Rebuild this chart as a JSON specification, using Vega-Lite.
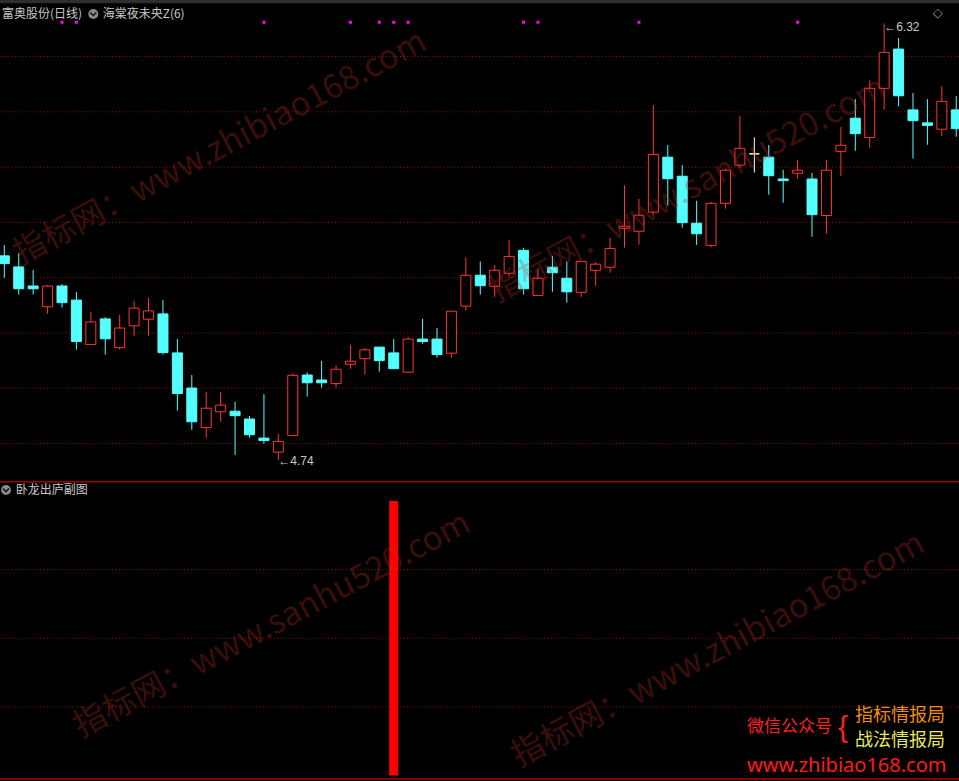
{
  "$schema": "https://vega.github.io/schema/vega-lite/v6.json",
  "background": "#000000",
  "padding": 0,
  "spacing": 0,
  "config": {"view": {"stroke": null}, "text": {"font": "Noto Sans CJK SC"}, "scale": {"continuousPadding": 0}},
  "resolve": {"scale": {"x": "independent", "y": "independent"}},
  "datasets": {
    "candles": [
      {"i":0,"o":5.479,"h":5.518,"l":5.400,"c":5.451,"t":"down"},
      {"i":1,"o":5.439,"h":5.489,"l":5.339,"c":5.360,"t":"down"},
      {"i":2,"o":5.370,"h":5.428,"l":5.339,"c":5.360,"t":"down"},
      {"i":3,"o":5.295,"h":5.374,"l":5.270,"c":5.370,"t":"up"},
      {"i":4,"o":5.370,"h":5.377,"l":5.292,"c":5.310,"t":"down"},
      {"i":5,"o":5.319,"h":5.348,"l":5.140,"c":5.169,"t":"down"},
      {"i":6,"o":5.158,"h":5.276,"l":5.158,"c":5.240,"t":"up"},
      {"i":7,"o":5.251,"h":5.257,"l":5.122,"c":5.179,"t":"down"},
      {"i":8,"o":5.147,"h":5.265,"l":5.140,"c":5.218,"t":"up"},
      {"i":9,"o":5.226,"h":5.316,"l":5.190,"c":5.290,"t":"up"},
      {"i":10,"o":5.250,"h":5.327,"l":5.190,"c":5.280,"t":"up"},
      {"i":11,"o":5.269,"h":5.319,"l":5.122,"c":5.129,"t":"down"},
      {"i":12,"o":5.128,"h":5.178,"l":4.919,"c":4.981,"t":"down"},
      {"i":13,"o":5.001,"h":5.048,"l":4.850,"c":4.879,"t":"down"},
      {"i":14,"o":4.858,"h":4.987,"l":4.821,"c":4.928,"t":"up"},
      {"i":15,"o":4.915,"h":4.987,"l":4.879,"c":4.939,"t":"up"},
      {"i":16,"o":4.917,"h":4.951,"l":4.759,"c":4.901,"t":"down"},
      {"i":17,"o":4.889,"h":4.900,"l":4.821,"c":4.832,"t":"down"},
      {"i":18,"o":4.820,"h":4.979,"l":4.800,"c":4.811,"t":"down"},
      {"i":19,"o":4.769,"h":4.835,"l":4.740,"c":4.808,"t":"up"},
      {"i":20,"o":4.829,"h":5.054,"l":4.829,"c":5.047,"t":"up"},
      {"i":21,"o":5.048,"h":5.058,"l":4.970,"c":5.020,"t":"down"},
      {"i":22,"o":5.030,"h":5.099,"l":5.002,"c":5.020,"t":"down"},
      {"i":23,"o":5.017,"h":5.083,"l":5.002,"c":5.069,"t":"up"},
      {"i":24,"o":5.087,"h":5.157,"l":5.071,"c":5.098,"t":"up"},
      {"i":25,"o":5.107,"h":5.146,"l":5.049,"c":5.139,"t":"up"},
      {"i":26,"o":5.149,"h":5.149,"l":5.060,"c":5.100,"t":"down"},
      {"i":27,"o":5.128,"h":5.178,"l":5.071,"c":5.071,"t":"down"},
      {"i":28,"o":5.058,"h":5.186,"l":5.058,"c":5.178,"t":"up"},
      {"i":29,"o":5.178,"h":5.251,"l":5.161,"c":5.169,"t":"down"},
      {"i":30,"o":5.178,"h":5.218,"l":5.111,"c":5.122,"t":"down"},
      {"i":31,"o":5.127,"h":5.279,"l":5.111,"c":5.279,"t":"up"},
      {"i":32,"o":5.297,"h":5.474,"l":5.281,"c":5.409,"t":"up"},
      {"i":33,"o":5.409,"h":5.459,"l":5.339,"c":5.371,"t":"down"},
      {"i":34,"o":5.369,"h":5.446,"l":5.331,"c":5.427,"t":"up"},
      {"i":35,"o":5.416,"h":5.536,"l":5.404,"c":5.477,"t":"up"},
      {"i":36,"o":5.499,"h":5.508,"l":5.339,"c":5.360,"t":"down"},
      {"i":37,"o":5.336,"h":5.435,"l":5.336,"c":5.398,"t":"up"},
      {"i":38,"o":5.438,"h":5.479,"l":5.349,"c":5.418,"t":"down"},
      {"i":39,"o":5.398,"h":5.459,"l":5.310,"c":5.349,"t":"down"},
      {"i":40,"o":5.347,"h":5.459,"l":5.331,"c":5.459,"t":"up"},
      {"i":41,"o":5.427,"h":5.457,"l":5.371,"c":5.449,"t":"up"},
      {"i":42,"o":5.438,"h":5.544,"l":5.418,"c":5.506,"t":"up"},
      {"i":43,"o":5.579,"h":5.734,"l":5.509,"c":5.586,"t":"up"},
      {"i":44,"o":5.568,"h":5.685,"l":5.519,"c":5.626,"t":"up"},
      {"i":45,"o":5.637,"h":6.025,"l":5.629,"c":5.846,"t":"up"},
      {"i":46,"o":5.836,"h":5.880,"l":5.661,"c":5.758,"t":"down"},
      {"i":47,"o":5.767,"h":5.807,"l":5.581,"c":5.599,"t":"down"},
      {"i":48,"o":5.597,"h":5.678,"l":5.519,"c":5.559,"t":"down"},
      {"i":49,"o":5.517,"h":5.674,"l":5.510,"c":5.669,"t":"up"},
      {"i":50,"o":5.669,"h":5.793,"l":5.650,"c":5.789,"t":"up"},
      {"i":51,"o":5.807,"h":5.985,"l":5.798,"c":5.868,"t":"up"},
      {"i":52,"o":5.848,"h":5.908,"l":5.780,"c":5.848,"t":"flat"},
      {"i":53,"o":5.836,"h":5.880,"l":5.700,"c":5.769,"t":"down"},
      {"i":54,"o":5.757,"h":5.790,"l":5.671,"c":5.751,"t":"down"},
      {"i":55,"o":5.778,"h":5.826,"l":5.758,"c":5.789,"t":"up"},
      {"i":56,"o":5.757,"h":5.779,"l":5.548,"c":5.628,"t":"down"},
      {"i":57,"o":5.625,"h":5.826,"l":5.559,"c":5.789,"t":"up"},
      {"i":58,"o":5.857,"h":5.945,"l":5.769,"c":5.879,"t":"up"},
      {"i":59,"o":5.977,"h":6.046,"l":5.859,"c":5.921,"t":"down"},
      {"i":60,"o":5.907,"h":6.114,"l":5.870,"c":6.085,"t":"up"},
      {"i":61,"o":6.085,"h":6.320,"l":6.008,"c":6.215,"t":"up"},
      {"i":62,"o":6.227,"h":6.267,"l":6.020,"c":6.058,"t":"down"},
      {"i":63,"o":6.007,"h":6.068,"l":5.831,"c":5.968,"t":"down"},
      {"i":64,"o":5.960,"h":6.046,"l":5.881,"c":5.951,"t":"down"},
      {"i":65,"o":5.937,"h":6.093,"l":5.912,"c":6.038,"t":"up"},
      {"i":66,"o":6.007,"h":6.057,"l":5.910,"c":5.939,"t":"down"}
    ],
    "sig": [{"i":4},{"i":5},{"i":18},{"i":24},{"i":26},{"i":27},{"i":28},{"i":36},{"i":37},{"i":44},{"i":55}],
    "ind": [{"i":27,"v":1}],
    "grid1": [{"g":4.8},{"g":5.0},{"g":5.2},{"g":5.4},{"g":5.6},{"g":5.8},{"g":6.0},{"g":6.2}],
    "grid2": [{"g":0.25},{"g":0.5},{"g":0.75}]
  },
  "vconcat": [
    {
      "width": 959,
      "height": 481,
      "layer": [
        {
          "data": {"name": "grid1"},
          "mark": {"type": "rule", "color": "#a01010", "strokeDash": [1, 2.6], "strokeWidth": 1, "clip": true},
          "encoding": {
            "y": {"field": "g", "type": "quantitative", "scale": {"domain": [4.6647, 6.4045], "nice": false, "zero": false}, "axis": null}
          }
        },
        {
          "data": {"name": "candles"},
          "mark": {"type": "rule", "strokeWidth": 1, "clip": true},
          "encoding": {
            "x": {"field": "i", "type": "quantitative", "scale": {"domain": [-0.298, 66.19], "nice": false, "zero": false, "padding": 0}, "axis": null},
            "y": {"field": "l", "type": "quantitative", "axis": null},
            "y2": {"field": "h"},
            "color": {"field": "t", "type": "nominal", "scale": {"domain": ["up", "down", "flat"], "range": ["#ff3434", "#54ffff", "#ffffff"]}, "legend": null}
          }
        },
        {
          "data": {"name": "candles"},
          "mark": {"type": "bar", "width": 10, "strokeWidth": 1, "orient": "vertical", "clip": true},
          "encoding": {
            "x": {"field": "i", "type": "quantitative"},
            "y": {"field": "o", "type": "quantitative"},
            "y2": {"field": "c"},
            "fill": {"condition": {"test": "datum.t === 'up'", "value": "#000000"}, "field": "t", "type": "nominal", "scale": {"domain": ["up", "down", "flat"], "range": ["#ff3434", "#54ffff", "#ffffff"]}, "legend": null},
            "stroke": {"field": "t", "type": "nominal", "scale": {"domain": ["up", "down", "flat"], "range": ["#ff3434", "#54ffff", "#ffffff"]}, "legend": null}
          }
        },
        {
          "data": {"values": [{}]},
          "mark": {"type": "rule", "color": "#2e2e2e", "strokeWidth": 4, "clip": true},
          "encoding": {"y": {"datum": 6.40}}
        },
        {
          "data": {"name": "sig"},
          "mark": {"type": "point", "shape": "square", "size": 9, "filled": true, "color": "#ff00ff", "opacity": 1, "clip": true},
          "encoding": {"x": {"field": "i", "type": "quantitative"}, "y": {"datum": 6.324}}
        },
        {
          "data": {"values": [{}]},
          "mark": {"type": "text", "text": "←6.32", "align": "left", "baseline": "middle", "dy": 4, "fontSize": 12, "font": "Liberation Sans", "color": "#c8c8c8", "clip": true},
          "encoding": {"x": {"datum": 61}, "y": {"datum": 6.32}}
        },
        {
          "data": {"values": [{}]},
          "mark": {"type": "text", "text": "←4.74", "align": "left", "baseline": "middle", "dy": 1, "fontSize": 12, "font": "Liberation Sans", "color": "#c8c8c8", "clip": true},
          "encoding": {"x": {"datum": 19}, "y": {"datum": 4.74}}
        },
        {
          "data": {"values": [{}]},
          "mark": {"type": "text", "text": "富奥股份(日线)", "align": "left", "baseline": "middle", "fontSize": 12, "color": "#c8c8c8", "clip": true},
          "encoding": {"x": {"datum": -0.16}, "y": {"datum": 6.354}}
        },
        {
          "data": {"values": [{}]},
          "mark": {"type": "point", "shape": "circle", "size": 100, "filled": true, "color": "#8a8a8a", "opacity": 1, "clip": true},
          "encoding": {"x": {"datum": 6.17}, "y": {"datum": 6.354}}
        },
        {
          "data": {"values": [{}]},
          "mark": {"type": "point", "shape": "M-1,-0.5L0,0.5L1,-0.5", "size": 36, "filled": false, "stroke": "#1a1a1a", "strokeWidth": 1.6, "opacity": 1, "clip": true},
          "encoding": {"x": {"datum": 6.17}, "y": {"datum": 6.354}}
        },
        {
          "data": {"values": [{}]},
          "mark": {"type": "text", "text": "海棠夜未央Z(6)", "align": "left", "baseline": "middle", "fontSize": 12, "color": "#c8c8c8", "clip": true},
          "encoding": {"x": {"datum": 6.82}, "y": {"datum": 6.354}}
        },
        {
          "data": {"values": [{}]},
          "mark": {"type": "text", "text": "◇", "align": "center", "baseline": "middle", "fontSize": 13, "font": "DejaVu Sans", "color": "#9a9a9a", "clip": true},
          "encoding": {"x": {"datum": 64.71}, "y": {"datum": 6.3575}}
        },
        {
          "data": {"values": [{}]},
          "mark": {"type": "text", "text": "指标网：www.zhibiao168.com", "align": "center", "baseline": "middle", "angle": -28, "fontSize": 33, "color": "#c03020", "opacity": 0.3, "clip": true},
          "encoding": {"x": {"datum": 14.95}, "y": {"datum": 5.869}}
        },
        {
          "data": {"values": [{}]},
          "mark": {"type": "text", "text": "指标网：www.sanhu520.com", "align": "center", "baseline": "middle", "angle": -28, "fontSize": 33, "color": "#c03020", "opacity": 0.3, "clip": true},
          "encoding": {"x": {"datum": 47.40}, "y": {"datum": 5.717}}
        }
      ]
    },
    {
      "width": 959,
      "height": 300,
      "layer": [
        {
          "data": {"name": "grid2"},
          "mark": {"type": "rule", "color": "#a01010", "strokeDash": [1, 2.6], "strokeWidth": 1, "clip": true},
          "encoding": {
            "y": {"field": "g", "type": "quantitative", "scale": {"domain": [-0.02, 1.0729], "nice": false, "zero": false}, "axis": null}
          }
        },
        {
          "data": {"name": "ind"},
          "mark": {"type": "bar", "width": 9, "color": "#ff0000", "orient": "vertical", "clip": true},
          "encoding": {
            "x": {"field": "i", "type": "quantitative", "scale": {"domain": [-0.298, 66.19], "nice": false, "zero": false, "padding": 0}, "axis": null},
            "y": {"field": "v", "type": "quantitative", "axis": null},
            "y2": {"datum": 0}
          }
        },
        {
          "data": {"values": [{}]},
          "mark": {"type": "rule", "color": "#a00000", "strokeWidth": 1.5, "clip": true},
          "encoding": {"y": {"datum": 1.07}}
        },
        {
          "data": {"values": [{}]},
          "mark": {"type": "rule", "color": "#b00000", "strokeWidth": 1.5, "clip": true},
          "encoding": {"y": {"datum": -0.0128}}
        },
        {
          "data": {"values": [{}]},
          "mark": {"type": "point", "shape": "circle", "size": 100, "filled": true, "color": "#8a8a8a", "opacity": 1, "clip": true},
          "encoding": {"x": {"datum": 0.118}, "y": {"datum": 1.0401}}
        },
        {
          "data": {"values": [{}]},
          "mark": {"type": "point", "shape": "M-1,-0.5L0,0.5L1,-0.5", "size": 36, "filled": false, "stroke": "#1a1a1a", "strokeWidth": 1.6, "opacity": 1, "clip": true},
          "encoding": {"x": {"datum": 0.118}, "y": {"datum": 1.0401}}
        },
        {
          "data": {"values": [{}]},
          "mark": {"type": "text", "text": "卧龙出庐副图", "align": "left", "baseline": "middle", "fontSize": 12, "color": "#c8c8c8", "clip": true},
          "encoding": {"x": {"datum": 0.79}, "y": {"datum": 1.0401}}
        },
        {
          "data": {"values": [{}]},
          "mark": {"type": "text", "text": "指标网：www.sanhu520.com", "align": "center", "baseline": "middle", "angle": -28, "fontSize": 33, "color": "#c03020", "opacity": 0.3, "clip": true},
          "encoding": {"x": {"datum": 18.56}, "y": {"datum": 0.548}}
        },
        {
          "data": {"values": [{}]},
          "mark": {"type": "text", "text": "指标网：www.zhibiao168.com", "align": "center", "baseline": "middle", "angle": -28, "fontSize": 33, "color": "#c03020", "opacity": 0.3, "clip": true},
          "encoding": {"x": {"datum": 49.48}, "y": {"datum": 0.457}}
        },
        {
          "data": {"values": [{}]},
          "mark": {"type": "text", "text": "微信公众号", "align": "left", "baseline": "middle", "fontSize": 17, "color": "#ff2020", "clip": true},
          "encoding": {"x": {"datum": 51.49}, "y": {"datum": 0.1767}}
        },
        {
          "data": {"values": [{}]},
          "mark": {"type": "text", "text": "{", "align": "center", "baseline": "middle", "fontSize": 30, "font": "Liberation Sans", "fontWeight": "normal", "color": "#ff2020", "clip": true},
          "encoding": {"x": {"datum": 58.15}, "y": {"datum": 0.173}}
        },
        {
          "data": {"values": [{}]},
          "mark": {"type": "text", "text": "指标情报局", "align": "left", "baseline": "middle", "fontSize": 18, "color": "#f08c10", "clip": true},
          "encoding": {"x": {"datum": 58.98}, "y": {"datum": 0.2168}}
        },
        {
          "data": {"values": [{}]},
          "mark": {"type": "text", "text": "战法情报局", "align": "left", "baseline": "middle", "fontSize": 18, "color": "#e8e85a", "clip": true},
          "encoding": {"x": {"datum": 58.98}, "y": {"datum": 0.1257}}
        },
        {
          "data": {"values": [{}]},
          "mark": {"type": "text", "text": "www.zhibiao168.com", "align": "left", "baseline": "middle", "fontSize": 20, "font": "Noto Sans", "color": "#ff1a1a", "clip": true},
          "encoding": {"x": {"datum": 51.49}, "y": {"datum": 0.0346}}
        }
      ]
    }
  ]
}
